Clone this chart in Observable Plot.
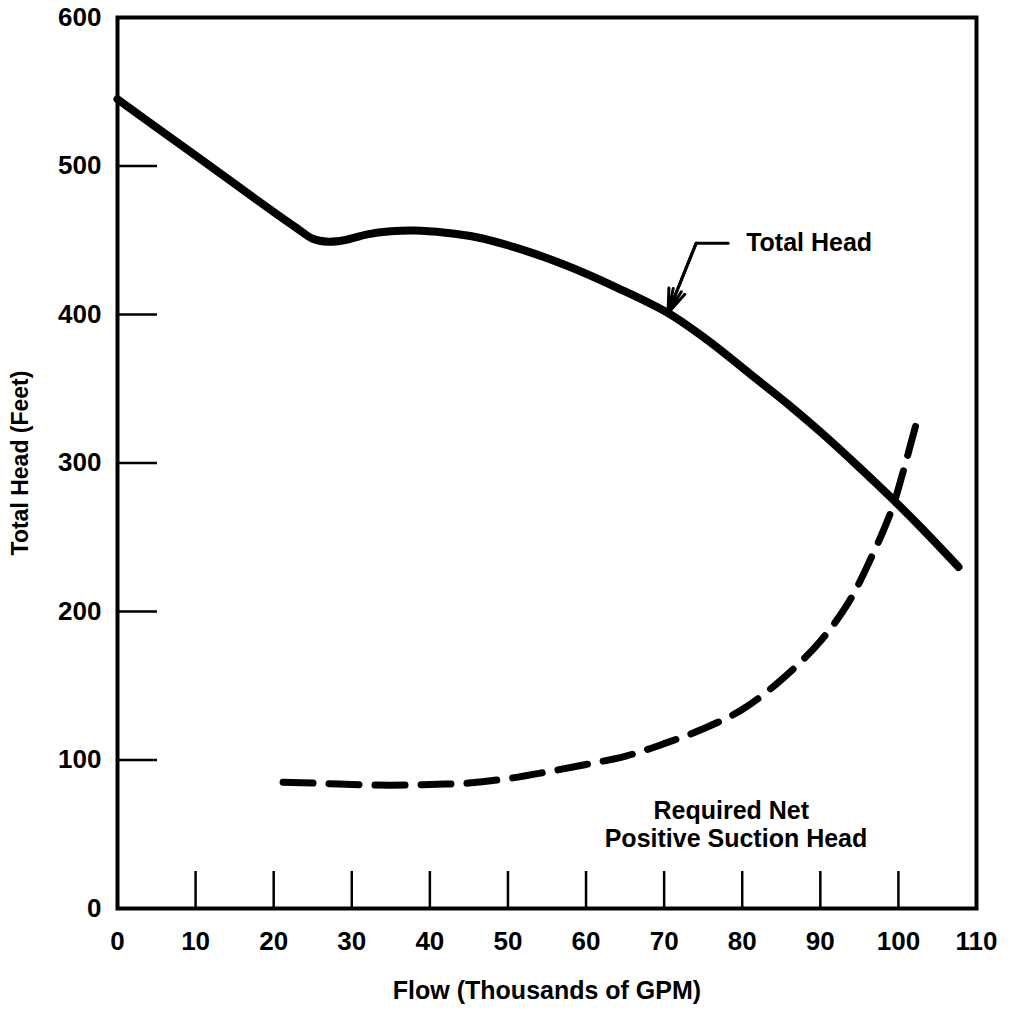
<!DOCTYPE html>
<html><head><meta charset="utf-8">
<script src="https://cdn.jsdelivr.net/npm/d3@7"></script>
<script src="https://cdn.jsdelivr.net/npm/@observablehq/plot@0.6"></script>
<style>body{margin:0;background:#fff}</style>
</head><body><div id="chart"></div>
<script>
// Total Head curve (flow in thousands of GPM, head in feet)
const headFlow  = [0, 5, 10, 15, 20, 23, 25, 27, 29, 32, 35, 38, 42, 46, 51, 57, 64, 70.5, 76, 81, 86, 90, 95, 99, 103, 107.7];
const headValue = [545, 526, 507, 488, 469, 458, 451, 449, 450, 454, 456, 456.5, 455, 452, 445, 434, 418, 401, 381, 360, 339, 321, 297, 277, 256, 230];
// Required Net Positive Suction Head curve
const npshFlow  = [21.2, 25, 30, 35, 40, 45, 50, 55, 60, 65, 70, 75, 80, 85, 90, 93.6, 96.5, 99.1, 100.6, 102.7];
const npshValue = [85, 84.5, 83.5, 83, 83.5, 84.5, 87.5, 92, 97, 102.5, 111, 121, 134, 154, 180, 206, 236, 268, 294, 335];
// axes
const xTickValues  = [10, 20, 30, 40, 50, 60, 70, 80, 90, 100];
const xLabelValues = [0, 10, 20, 30, 40, 50, 60, 70, 80, 90, 100, 110];
const yTickValues  = [100, 200, 300, 400, 500];
const yLabelValues = [0, 100, 200, 300, 400, 500, 600];
const xTitle = "Flow (Thousands of GPM)";
const yTitle = "Total Head (Feet)";
// annotations
const headLabel = "Total Head";
const headLabelAt = [80.5, 448];
const leaderFlow = [78.2, 74.1];
const leaderHead = [448, 448];
const arrowFrom = [74.1, 448];
const arrowTo = [70.5, 401];
const npshLabel = ["Required Net", "Positive Suction Head"];
const npshLabelFlow = [78.6, 79.2];
const npshLabelHead = [65.5, 46.5];

const head = headFlow.map((x, i) => ({x, y: headValue[i]}));
const npsh = npshFlow.map((x, i) => ({x, y: npshValue[i]}));
const leader = leaderFlow.map((x, i) => ({x, y: leaderHead[i]}));
const npshText = npshLabel.map((t, i) => ({t, x: npshLabelFlow[i], y: npshLabelHead[i]}));

const font = "'Liberation Sans', Arial, Helvetica, sans-serif";

const chart = Plot.plot({
  width: 1009,
  height: 1011,
  marginLeft: 117,
  marginRight: 33,
  marginTop: 17,
  marginBottom: 103,
  style: {fontFamily: font, fontWeight: "bold", color: "#000", background: "#fff"},
  x: {domain: [0, 110], label: null},
  y: {domain: [0, 600], label: null},
  marks: [
    Plot.axisX({ticks: xTickValues, tickSize: -37, text: null, strokeWidth: 2.5, label: null}),
    Plot.axisX({ticks: xLabelValues, tickSize: 0, tickPadding: 23, fontSize: 26, label: null, tickFormat: d => String(d)}),
    Plot.axisY({ticks: yTickValues, tickSize: -40, text: null, strokeWidth: 2.5, label: null}),
    Plot.axisY({ticks: yLabelValues, tickSize: 0, tickPadding: 16, fontSize: 26, label: null, tickFormat: d => String(d)}),
    Plot.frame({stroke: "#000", strokeWidth: 4}),
    Plot.line(head, {x: "x", y: "y", stroke: "#000", strokeWidth: 8, curve: "catmull-rom", strokeLinecap: "round"}),
    Plot.line(npsh, {x: "x", y: "y", stroke: "#000", strokeWidth: 7, curve: "catmull-rom", strokeLinecap: "round", strokeDasharray: "30,16"}),
    Plot.line(leader, {x: "x", y: "y", stroke: "#000", strokeWidth: 3}),
    Plot.arrow([0], {x1: () => arrowFrom[0], y1: () => arrowFrom[1], x2: () => arrowTo[0], y2: () => arrowTo[1], stroke: "#000", strokeWidth: 3, headLength: 20, headAngle: 40}),
    Plot.arrow([0], {x1: () => arrowFrom[0], y1: () => arrowFrom[1], x2: () => arrowTo[0], y2: () => arrowTo[1], stroke: "#000", strokeWidth: 3, headLength: 18, headAngle: 20}),
    Plot.text([headLabel], {x: () => headLabelAt[0], y: () => headLabelAt[1], text: d => d, textAnchor: "start", fontSize: 25, fontWeight: "bold"}),
    Plot.text(npshText, {x: "x", y: "y", text: "t", textAnchor: "middle", fontSize: 25, fontWeight: "bold"}),
    Plot.text([xTitle], {frameAnchor: "bottom", dy: 82, lineAnchor: "middle", textAnchor: "middle", text: d => d, fontSize: 25, fontWeight: "bold"}),
    Plot.text([yTitle], {frameAnchor: "left", dx: -97, rotate: -90, lineAnchor: "middle", textAnchor: "middle", text: d => d, fontSize: 23, fontWeight: "bold"})
  ]
});
document.getElementById("chart").appendChild(chart);
</script>
</body></html>
